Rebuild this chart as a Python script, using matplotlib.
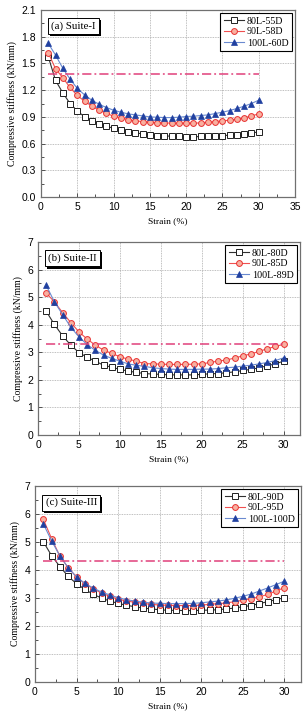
import numpy as np
import matplotlib
matplotlib.use("Agg")
import matplotlib.pyplot as plt
import matplotlib.patheffects as pe
from matplotlib.ticker import MultipleLocator

strain = list(range(1, 31))

# suite I
s1_80 = [1.575, 1.31, 1.17, 1.05, 0.967, 0.90, 0.855, 0.825, 0.795, 0.772,
         0.75, 0.735, 0.72, 0.709, 0.70, 0.69, 0.686, 0.683, 0.68, 0.675,
         0.675, 0.68, 0.683, 0.686, 0.69, 0.694, 0.70, 0.709, 0.72, 0.73]
s1_90 = [1.62, 1.44, 1.34, 1.23, 1.14, 1.076, 1.02, 0.975, 0.94, 0.907,
         0.89, 0.87, 0.855, 0.847, 0.84, 0.836, 0.832, 0.829, 0.829, 0.829,
         0.829, 0.832, 0.84, 0.847, 0.855, 0.862, 0.874, 0.889, 0.91, 0.934]
s1_100 = [1.725, 1.594, 1.447, 1.324, 1.219, 1.147, 1.087, 1.042, 1.005, 0.975,
          0.952, 0.934, 0.922, 0.911, 0.90, 0.896, 0.892, 0.892, 0.896, 0.904,
          0.907, 0.915, 0.922, 0.937, 0.952, 0.971, 0.994, 1.02, 1.05, 1.087]
s1_ref = 1.385

# suite II
s2_80 = [4.49, 4.01, 3.60, 3.26, 2.99, 2.82, 2.68, 2.53, 2.46, 2.38,
         2.32, 2.27, 2.23, 2.21, 2.20, 2.18, 2.18, 2.18, 2.18, 2.20,
         2.22, 2.23, 2.26, 2.29, 2.34, 2.38, 2.44, 2.51, 2.58, 2.68]
s2_90 = [5.15, 4.83, 4.44, 4.08, 3.74, 3.48, 3.26, 3.08, 2.96, 2.84,
         2.75, 2.68, 2.59, 2.58, 2.57, 2.56, 2.56, 2.56, 2.57, 2.58,
         2.63, 2.68, 2.72, 2.79, 2.87, 2.94, 3.03, 3.13, 3.21, 3.29]
s2_100 = [5.43, 4.83, 4.37, 3.91, 3.56, 3.28, 3.07, 2.90, 2.78, 2.68,
          2.58, 2.53, 2.49, 2.44, 2.41, 2.39, 2.38, 2.38, 2.38, 2.39,
          2.39, 2.41, 2.44, 2.46, 2.50, 2.53, 2.58, 2.63, 2.70, 2.80]
s2_ref = 3.31

# suite III
s3_80 = [5.01, 4.51, 4.12, 3.77, 3.51, 3.31, 3.13, 3.00, 2.89, 2.81,
         2.74, 2.69, 2.64, 2.61, 2.58, 2.56, 2.56, 2.55, 2.55, 2.56,
         2.57, 2.58, 2.61, 2.64, 2.69, 2.73, 2.80, 2.87, 2.94, 3.01]
s3_90 = [5.81, 5.12, 4.49, 4.08, 3.75, 3.51, 3.33, 3.18, 3.06, 2.96,
         2.89, 2.85, 2.81, 2.77, 2.75, 2.74, 2.73, 2.73, 2.73, 2.75,
         2.77, 2.80, 2.82, 2.87, 2.92, 2.98, 3.04, 3.13, 3.25, 3.37]
s3_100 = [5.65, 5.04, 4.50, 4.08, 3.75, 3.52, 3.36, 3.21, 3.11, 3.01,
          2.94, 2.89, 2.85, 2.82, 2.81, 2.80, 2.80, 2.80, 2.81, 2.83,
          2.86, 2.89, 2.93, 2.99, 3.06, 3.14, 3.25, 3.36, 3.48, 3.60]
s3_ref = 4.33

panels = [
    ("(a) Suite-I", ["80L-55D", "90L-58D", "100L-60D"], [s1_80, s1_90, s1_100], s1_ref,
     (0, 35), 5, (0, 2.1), 0.3),
    ("(b) Suite-II", ["80L-80D", "90L-85D", "100L-89D"], [s2_80, s2_90, s2_100], s2_ref,
     (0, 32), 5, (0, 7), 1),
    ("(c) Suite-III", ["80L-90D", "90L-95D", "100L-100D"], [s3_80, s3_90, s3_100], s3_ref,
     (0, 32), 5, (0, 7), 1),
]

# axes boxes in pixels: left, right, top, bottom
boxes = [(41, 295, 10, 197), (38, 300, 242, 435), (35, 301, 486, 682)]

W, H = 304, 718
fig = plt.figure(figsize=(W / 100, H / 100), dpi=100)

serif = ["Liberation Serif", "DejaVu Serif"]
sans = ["Liberation Sans", "DejaVu Sans"]

styles = [
    dict(color="#303030", marker="s", mfc="white", mec="#202020", ms=3.8, mew=0.7, lw=0.8),
    dict(color="#f05050", marker="o", mfc="#f8b0a0", mec="#e83030", ms=4.2, mew=0.7, lw=0.8),
    dict(color="#6a8ad0", marker="^", mfc="#2040a0", mec="#2040a0", ms=4.4, mew=0.5, lw=0.8),
]

for (title, names, series, ref, xlim, xstep, ylim, ystep), (l, r, t, b) in zip(panels, boxes):
    ax = fig.add_axes([l / W, 1 - b / H, (r - l) / W, (b - t) / H])
    for name, ys, st in zip(names, series, styles):
        ax.plot(strain, ys, label=name, **st)
    ax.plot([strain[0], strain[-1]], [ref, ref], color="#e0407a", lw=1.1,
            linestyle=(0, (6, 2, 1.2, 2)))
    ax.set_xlim(*xlim)
    ax.set_ylim(*ylim)
    ax.xaxis.set_major_locator(MultipleLocator(xstep))
    ax.xaxis.set_minor_locator(MultipleLocator(xstep / 2))
    ax.yaxis.set_major_locator(MultipleLocator(ystep))
    ax.yaxis.set_minor_locator(MultipleLocator(ystep / 2))
    if ystep < 1:
        ax.yaxis.set_major_formatter(matplotlib.ticker.FormatStrFormatter("%.1f"))
    ax.tick_params(which="both", direction="in", colors="#505050", labelcolor="black",
                   labelsize=7.5, width=0.7)
    ax.tick_params(which="major", length=3)
    ax.tick_params(which="minor", length=2)
    for lab in ax.get_xticklabels() + ax.get_yticklabels():
        lab.set_family(sans)
    for sp in ax.spines.values():
        sp.set_color("#707070")
        sp.set_linewidth(0.9)
    ax.grid(True, which="major", color="#aaaaaa", linestyle=(0, (1, 1)), linewidth=0.6)
    ax.set_xlabel("Strain (%)", family=serif, fontsize=6.8, labelpad=4)
    ax.set_ylabel("Compressive stiffness (kN/mm)", family=serif, fontsize=7, labelpad=3)
    ax.text(0.04, 0.94, title, transform=ax.transAxes, family=serif, fontsize=7.8,
            va="top", ha="left",
            bbox=dict(boxstyle="square,pad=0.3", fc="white", ec="black", lw=0.7,
                      path_effects=[pe.SimplePatchShadow(offset=(1.5, -1.5),
                                                         shadow_rgbFace="black", alpha=1),
                                    pe.Normal()]))
    leg = ax.legend(loc="upper right", prop={"family": serif, "size": 7.2},
                    fancybox=False, edgecolor="black", framealpha=1,
                    handlelength=2.0, handletextpad=0.3, borderpad=0.35,
                    labelspacing=0.2, borderaxespad=0.3)
    leg.get_frame().set_linewidth(0.8)

fig.savefig("out.png", dpi=100)
